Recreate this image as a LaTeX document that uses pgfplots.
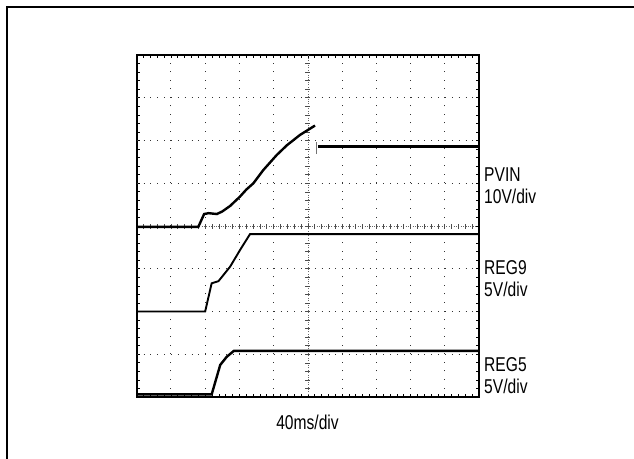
\documentclass[border=0pt]{standalone}
\usepackage{pgfplots}
\pgfplotsset{compat=1.18}
\usepackage{fontspec}
\setmainfont{Liberation Sans}[FakeStretch=0.78]
\begin{document}
\begin{tikzpicture}
\path[use as bounding box] (0bp,0bp) rectangle (634bp,459bp);
\draw[line width=1.8bp] (7bp,0bp) -- (7bp,452bp) -- (634bp,452bp);
\begin{axis}[at={(136.7bp,62bp)}, anchor=south west,
  width=342.3bp, height=342bp, scale only axis,
  xmin=0, xmax=10, ymin=0, ymax=8,
  xtick={0,...,10}, ytick={0,...,8},
  minor x tick num=4, minor y tick num=4,
  xticklabels={}, yticklabels={},
  major tick length=3bp, minor tick length=3bp,
  tick style={line width=0.7bp, black},
  axis line style={line width=2bp},
  ]
% grid of dots
\pgfplotsinvokeforeach{1,2,3,4,6,7,8,9}{
  \draw[line width=0.9bp, black!80, dash pattern=on 0.9bp off 7.65bp] (axis cs:#1,0) -- (axis cs:#1,8);
}
\pgfplotsinvokeforeach{1,2,3,5,6,7}{
  \draw[line width=0.9bp, black!80, dash pattern=on 0.9bp off 5.95bp] (axis cs:0,#1) -- (axis cs:10,#1);
}
% center lines
\draw[line width=0.6bp, black!60, dash pattern=on 0.8bp off 1.6bp] (axis cs:0,4) -- (axis cs:10,4);
\draw[line width=0.6bp, black!60, dash pattern=on 0.8bp off 1.6bp] (axis cs:5,0) -- (axis cs:5,8);
\pgfplotsinvokeforeach{0.2,0.4,...,9.81}{
  \draw[line width=0.6bp, black!70] (axis cs:#1,4) ++(0,-2.5bp) -- ++(0,5bp);
}
\pgfplotsinvokeforeach{0.2,0.4,...,7.81}{
  \draw[line width=0.6bp, black!70] (axis cs:5,#1) ++(-2.5bp,0) -- ++(5bp,0);
}
% heavier right and bottom frame
\draw[line width=3.6bp] (axis cs:10,8) ++(0.8bp,1bp) -- ([xshift=0.8bp,yshift=-1.5bp]axis cs:10,0);
\draw[line width=2.8bp] (axis cs:0,0) -- (axis cs:10,0);
% PVIN
\addplot[black, line width=2.4bp, mark=none] coordinates {
(0,3.98) (1.80,3.98) (1.97,4.28) (2.1,4.30) (2.34,4.28) (2.5,4.34) (2.73,4.47)
(3.02,4.69) (3.2,4.85) (3.41,5.0) (3.70,5.31) (4.09,5.66) (4.39,5.89) (4.77,6.13) (5.21,6.35)};
\addplot[black!55, line width=0.8bp, mark=none] coordinates {(5.25,5.68) (5.25,5.97)};
\addplot[black, line width=2.4bp, mark=none] coordinates {(5.29,5.86) (10,5.86)};
% REG9
\addplot[black, line width=1.9bp, mark=none] coordinates {
(0,2.0) (2.0,2.0) (2.19,2.66) (2.39,2.71) (2.73,3.05) (3.02,3.44) (3.31,3.81) (10,3.81)};
% REG5
\addplot[black, line width=2.4bp, mark=none] coordinates {
(0,0.06) (2.19,0.06) (2.44,0.75) (2.63,0.94) (2.84,1.08) (10,1.08)};
\end{axis}
\begin{scope}[x=1bp, y=1bp, every node/.style={font=\fontsize{20bp}{24bp}\selectfont, inner sep=0pt, anchor=base west}]
\node at (484,277.3) {PVIN};
\node at (484,255.7) {10V/div};
\node at (484,184.7) {REG9};
\node at (484,162.3) {5V/div};
\node at (484,88) {REG5};
\node at (484,66) {5V/div};
\node[anchor=base] at (307.5,29.7) {40ms/div};
\end{scope}
\end{tikzpicture}
\end{document}
